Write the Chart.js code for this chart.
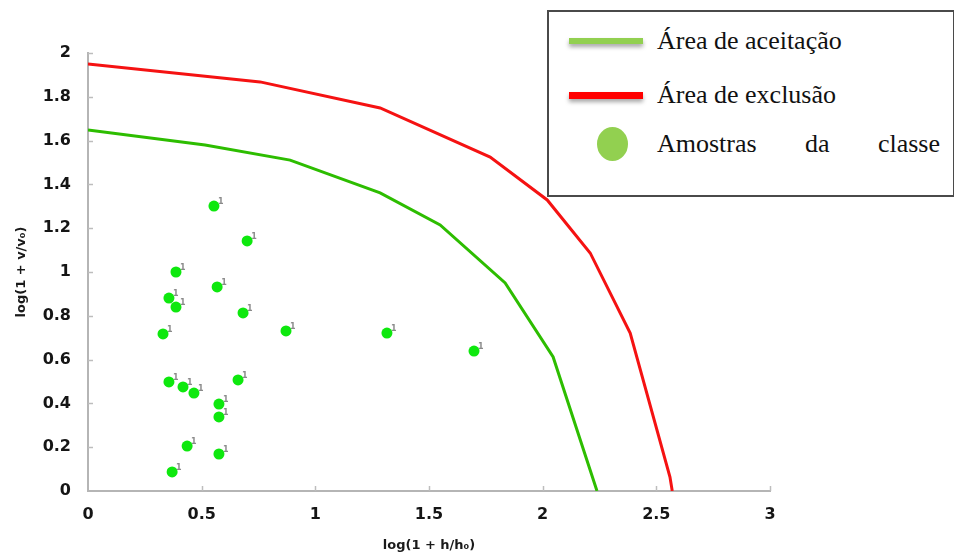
<!DOCTYPE html>
<html>
<head>
<meta charset="utf-8">
<script src="https://cdn.jsdelivr.net/npm/chart.js@4.4.1/dist/chart.umd.min.js"></script>
<style>
body{margin:0;background:#fff}
#wrap{position:relative;width:954px;height:555px}
#legend{position:absolute;left:547px;top:10px;width:404px;height:183px;border:2px solid #4a4a4a;background:#fff;
  font-family:"Liberation Serif","Times New Roman",serif;font-size:26px;color:#111}
.row{position:absolute;left:0;height:30px;line-height:30px}
.row .txt{position:absolute;left:108px;white-space:nowrap}
.row .ln{position:absolute;left:20px;top:12px;width:74px;height:6px;box-shadow:0 3px 4px rgba(0,0,0,0.35)}
.row .dot{position:absolute;left:48px;top:-2px;width:31px;height:34px;border-radius:50%}
.row .just{display:inline-block;width:283px;text-align:justify;text-align-last:justify}
</style>
</head>
<body>
<div id="wrap">
<canvas id="myChart" width="954" height="555"></canvas>
<div id="legend"></div>
</div>
<script>
// acceptance boundary
var aceitX=[0,0.515,0.889,1.285,1.549,1.835,2.046,2.239];
var aceitY=[1.648,1.58,1.511,1.361,1.215,0.95,0.612,0];
// exclusion boundary
var exclX=[0,0.757,1.285,1.769,2.02,2.209,2.385,2.56,2.57];
var exclY=[1.95,1.868,1.749,1.525,1.329,1.087,0.721,0.064,0];
// class samples
var amostraX=[0.554,0.700,0.387,0.568,0.356,0.387,0.682,0.330,0.871,1.315,1.698,0.356,0.418,0.466,0.660,0.576,0.576,0.436,0.576,0.370];
var amostraY=[1.301,1.142,1.000,0.932,0.881,0.840,0.813,0.717,0.731,0.721,0.639,0.498,0.475,0.447,0.507,0.397,0.338,0.205,0.169,0.087];
var xTicks=[0,0.5,1,1.5,2,2.5,3];
var yTicks=[0,0.2,0.4,0.6,0.8,1,1.2,1.4,1.6,1.8,2];
var seriesLabels=['Área de aceitação','Área de exclusão','Amostras da classe'];
var legendColors=['#92d050','#ff0000','#92d050'];
var legendThick=[6,7,0];

function toPoints(xs,ys)
{
    var pts=[];
    for(var i=0;i<xs.length;i++)
    {
        pts.push({x:xs[i],y:ys[i]});
    }
    return pts;
}

// small inward tick stubs on both axes
var innerTicks={
    id:'innerTicks',
    afterDraw:function(chart){
        var ctx=chart.ctx, area=chart.chartArea;
        var sx=chart.scales.x, sy=chart.scales.y;
        ctx.save();
        ctx.strokeStyle='#bdbdbd';
        ctx.lineWidth=1.5;
        xTicks.forEach(function(v){
            if(v==0) return;
            var px=Math.round(sx.getPixelForValue(v))+0.5;
            ctx.beginPath();ctx.moveTo(px,area.bottom);ctx.lineTo(px,area.bottom-5);ctx.stroke();
        });
        yTicks.forEach(function(v){
            if(v==0) return;
            var py=Math.round(sy.getPixelForValue(v))+0.5;
            ctx.beginPath();ctx.moveTo(area.left,py);ctx.lineTo(area.left+5,py);ctx.stroke();
        });
        ctx.restore();
    }
};

// little grey tag next to each sample point
var sampleTags={
    id:'sampleTags',
    afterDatasetsDraw:function(chart){
        var ctx=chart.ctx;
        var meta=chart.getDatasetMeta(2);
        ctx.save();
        ctx.fillStyle='#8a8a8a';
        ctx.font='bold 8px "DejaVu Sans"';
        ctx.textAlign='left';
        ctx.textBaseline='middle';
        meta.data.forEach(function(el){
            ctx.fillText('1',el.x+4,el.y-4);
        });
        ctx.restore();
    }
};

var tickFont={family:'"DejaVu Sans", Verdana, sans-serif',size:16,weight:'bold'};
var titleFont={family:'"DejaVu Sans", Verdana, sans-serif',size:13,weight:'bold'};
function plainLabel(v){return String(v);}

new Chart('myChart',{
    data:{
        datasets:[
            {
                type:'line',
                label:seriesLabels[0],
                data:toPoints(aceitX,aceitY),
                borderColor:'#2dbd00',
                borderWidth:3,
                pointRadius:0,
                tension:0,
                fill:false
            },
            {
                type:'line',
                label:seriesLabels[1],
                data:toPoints(exclX,exclY),
                borderColor:'#f51212',
                borderWidth:3,
                pointRadius:0,
                tension:0,
                fill:false
            },
            {
                type:'scatter',
                label:seriesLabels[2],
                data:toPoints(amostraX,amostraY),
                backgroundColor:'#0ee80e',
                borderWidth:0,
                pointRadius:5.5
            }
        ]
    },
    options:{
        responsive:false,
        animation:false,
        layout:{padding:{top:53,right:184,left:0,bottom:0}},
        plugins:{legend:{display:false},tooltip:{enabled:false}},
        scales:{
            x:{
                type:'linear',
                min:0,max:3,
                afterBuildTicks:function(s){s.ticks=xTicks.map(function(v){return {value:v};});},
                afterFit:function(s){s.height=64;},
                grid:{display:false},
                border:{display:true,color:'#b5b5b5',width:2},
                ticks:{font:tickFont,color:'#151515',padding:6,maxRotation:0,callback:plainLabel},
                title:{display:true,text:'log(1 + h/h₀)',font:titleFont,color:'#1a1a1a',padding:{top:0,bottom:2}}
            },
            y:{
                type:'linear',
                min:0,max:2,
                afterBuildTicks:function(s){s.ticks=yTicks.map(function(v){return {value:v};});},
                afterFit:function(s){s.width=88;},
                grid:{display:false},
                border:{display:true,color:'#b5b5b5',width:2},
                ticks:{font:tickFont,color:'#151515',padding:9,callback:plainLabel},
                title:{display:true,text:'log(1 + v/v₀)',font:titleFont,color:'#1a1a1a',padding:{top:14,bottom:0}}
            }
        }
    },
    plugins:[innerTicks,sampleTags]
});

// boxed legend in the top right corner
var legend=document.getElementById('legend');
var rowTops=[14,68,117];
seriesLabels.forEach(function(name,i){
    var row=document.createElement('div');
    row.className='row';
    row.style.top=rowTops[i]+'px';
    var mark=document.createElement('div');
    mark.className=(i<2)?'ln':'dot';
    mark.style.background=legendColors[i];
    if(i<2) mark.style.height=legendThick[i]+'px';
    row.appendChild(mark);
    var txt=document.createElement('div');
    txt.className='txt';
    if(i==2)
    {
        var sp=document.createElement('span');
        sp.className='just';
        sp.textContent=name;
        txt.appendChild(sp);
    }
    else
    {
        txt.textContent=name;
    }
    row.appendChild(txt);
    legend.appendChild(row);
});
</script>
</body>
</html>
